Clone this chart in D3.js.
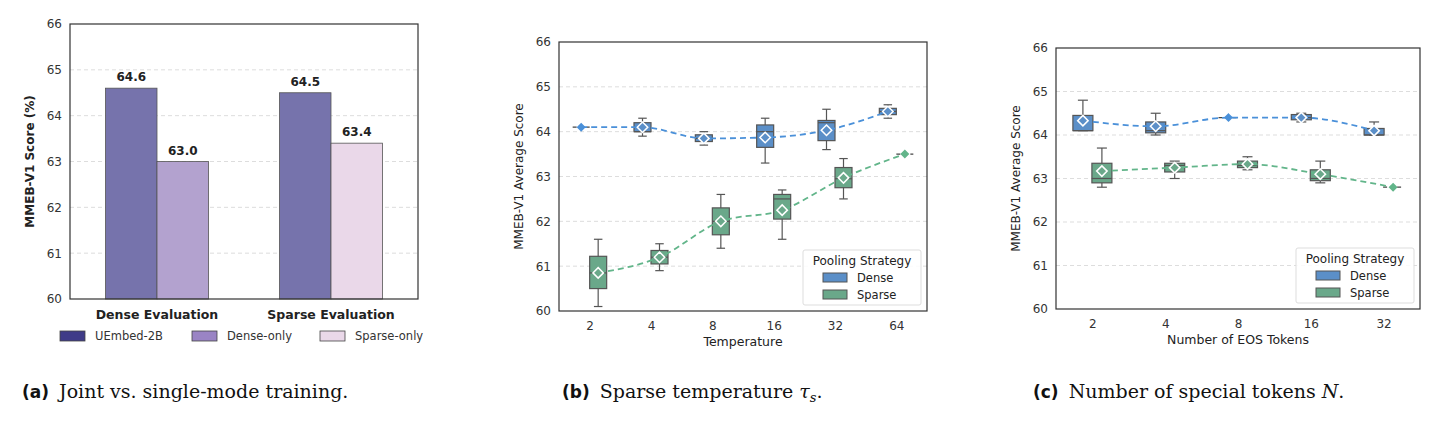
<!DOCTYPE html>
<html lang="en">
<head>
<meta charset="utf-8">
<script src="https://cdn.jsdelivr.net/npm/d3@7"></script>
<style>
body{margin:0;background:#fff;font-family:"DejaVu Sans",sans-serif;}
svg text{font-family:"DejaVu Sans",sans-serif;}
.grid line{stroke:#ddd;stroke-dasharray:4,3;}
.tick text{fill:#333;}
</style>
</head>
<body>
<svg id="fig" width="1446" height="423"></svg>
<script>
// panel (a) data
var evalGroups = ["Dense Evaluation", "Sparse Evaluation"];
var barModels = ["UEmbed-2B", "Dense-only", "Sparse-only"];
var barValues = [[64.6, 63.0], [64.5, 63.4]]; // per group: [joint, single]
var barColors = ["#7673ac", "#b3a2cf", "#ead8e9"];
var legendColors = ["#3f3b88", "#9a84c4", "#ead8e9"];
var yTicks = [60, 61, 62, 63, 64, 65, 66];

// panel (b) data: [whiskerLo, q1, median, q3, whiskerHi, mean]
var tempLabels = ["2", "4", "8", "16", "32", "64"];
var tempDense = [
  [64.1, 64.1, 64.1, 64.1, 64.1, 64.1],
  [63.9, 64.0, 64.0, 64.2, 64.3, 64.1],
  [63.7, 63.78, 63.85, 63.93, 64.0, 63.85],
  [63.3, 63.65, 64.0, 64.15, 64.3, 63.87],
  [63.6, 63.8, 64.2, 64.25, 64.5, 64.03],
  [64.3, 64.38, 64.45, 64.52, 64.6, 64.45]
];
var tempSparse = [
  [60.1, 60.5, 60.85, 61.22, 61.6, 60.85],
  [60.9, 61.05, 61.2, 61.35, 61.5, 61.2],
  [61.4, 61.7, 62.0, 62.3, 62.6, 62.0],
  [61.6, 62.05, 62.5, 62.6, 62.7, 62.25],
  [62.5, 62.75, 62.95, 63.2, 63.4, 62.97],
  [63.5, 63.5, 63.5, 63.5, 63.5, 63.5]
];

// panel (c) data
var eosLabels = ["2", "4", "8", "16", "32"];
var eosDense = [
  [64.1, 64.1, 64.1, 64.45, 64.8, 64.33],
  [64.0, 64.05, 64.1, 64.3, 64.5, 64.2],
  [64.4, 64.4, 64.4, 64.4, 64.4, 64.4],
  [64.3, 64.35, 64.4, 64.47, 64.5, 64.4],
  [64.0, 64.0, 64.0, 64.15, 64.3, 64.1]
];
var eosSparse = [
  [62.8, 62.9, 63.0, 63.35, 63.7, 63.17],
  [63.0, 63.15, 63.3, 63.35, 63.4, 63.25],
  [63.2, 63.25, 63.3, 63.4, 63.5, 63.33],
  [62.9, 62.95, 63.0, 63.2, 63.4, 63.1],
  [62.8, 62.8, 62.8, 62.8, 62.8, 62.8]
];

var denseBox = "#5b8fc8", denseLine = "#4a90d9";
var sparseBox = "#6aa88a", sparseLine = "#62b58a";

var svg = d3.select("#fig");

function frame(g, x0, x1, y0, y1, y, xl, yl, bold) {
  g.append("g").attr("class", "grid")
    .selectAll("line").data(yTicks.slice(1, -1)).enter().append("line")
    .attr("x1", x0).attr("x2", x1).attr("y1", y).attr("y2", y);
  g.append("g").attr("transform", "translate(" + x0 + ",0)")
    .call(d3.axisLeft(y).tickValues(yTicks).tickFormat(d3.format("d")).tickSize(0).tickPadding(8))
    .call(function(s){ s.select(".domain").remove(); s.selectAll("text").style("font-size", "12px").style("font-family", "DejaVu Sans"); });
  g.append("text").attr("transform", "translate(" + (x0 - 36) + "," + ((y0 + y1) / 2) + ") rotate(-90)")
    .attr("text-anchor", "middle").style("font-size", "12px").style("font-weight", bold ? "bold" : "normal")
    .attr("fill", "#222").text(yl);
}

function border(g, x0, x1, y0, y1) {
  g.append("rect").attr("x", x0).attr("y", y0).attr("width", x1 - x0).attr("height", y1 - y0)
    .attr("fill", "none").attr("stroke", "#333").attr("stroke-width", 1.2);
}

// ---- panel (a)
(function(){
  var x0 = 70, x1 = 418, y0 = 24, y1 = 299;
  var g = svg.append("g");
  var y = d3.scaleLinear().domain([60, 66]).range([y1, y0]);
  var x = d3.scalePoint().domain(evalGroups).range([x0, x1]).padding(0.5);
  frame(g, x0, x1, y0, y1, y, "", "MMEB-V1 Score (%)", true);
  var bw = 51.5;
  evalGroups.forEach(function(grp, gi){
    barValues[gi].forEach(function(v, k){
      var ci = k === 0 ? 0 : gi + 1;
      var bx = x(grp) - bw + k * bw;
      g.append("rect").attr("x", bx).attr("y", y(v)).attr("width", bw).attr("height", y(60) - y(v))
        .attr("fill", barColors[ci]).attr("stroke", "#555").attr("stroke-width", 0.8);
      g.append("text").attr("x", bx + bw / 2).attr("y", y(v) - 7).attr("text-anchor", "middle")
        .style("font-size", "12px").style("font-weight", "bold").attr("fill", "#222").text(v.toFixed(1));
    });
    g.append("text").attr("x", x(grp)).attr("y", y1 + 20).attr("text-anchor", "middle")
      .style("font-size", "12.5px").style("font-weight", "bold").attr("fill", "#222").text(grp);
  });
  border(g, x0, x1, y0, y1);
  var lx = [60, 192, 320];
  barModels.forEach(function(m, i){
    g.append("rect").attr("x", lx[i]).attr("y", 331).attr("width", 25).attr("height", 10)
      .attr("fill", legendColors[i]).attr("stroke", "#444").attr("stroke-width", 0.8);
    g.append("text").attr("x", lx[i] + 35).attr("y", 340).style("font-size", "11.5px").attr("fill", "#333").text(m);
  });
})();

// ---- box panels
function boxPanel(x0, x1, y0, y1, labels, dense, sparse, off, bw, xl) {
  var g = svg.append("g");
  var y = d3.scaleLinear().domain([60, 66]).range([y1, y0]);
  var x = d3.scalePoint().domain(labels).range([x0, x1]).padding(0.5);
  frame(g, x0, x1, y0, y1, y, xl, "MMEB-V1 Average Score", false);
  g.append("g").attr("transform", "translate(0," + y1 + ")")
    .call(d3.axisBottom(x).tickSize(0).tickPadding(10))
    .call(function(s){ s.select(".domain").remove(); s.selectAll("text").style("font-size", "12px").style("font-family", "DejaVu Sans"); });
  g.append("text").attr("x", (x0 + x1) / 2).attr("y", y1 + 35).attr("text-anchor", "middle")
    .style("font-size", "12.5px").attr("fill", "#222").text(xl);

  [[dense, -off, denseBox, denseLine], [sparse, off, sparseBox, sparseLine]].forEach(function(s){
    var data = s[0], dx = s[1];
    var cx = function(i){ return x(labels[i]) + dx; };
    data.forEach(function(d, i){
      var c = cx(i);
      if (d[0] === d[4]) {
        g.append("line").attr("x1", c - bw / 2).attr("x2", c + bw / 2).attr("y1", y(d[2])).attr("y2", y(d[2]))
          .attr("stroke", "#444").attr("stroke-width", 1.2).attr("stroke-dasharray", "4,3");
        return;
      }
      g.append("line").attr("x1", c).attr("x2", c).attr("y1", y(d[0])).attr("y2", y(d[4]))
        .attr("stroke", "#555").attr("stroke-width", 1.2);
      [d[0], d[4]].forEach(function(w){
        g.append("line").attr("x1", c - bw / 4).attr("x2", c + bw / 4).attr("y1", y(w)).attr("y2", y(w))
          .attr("stroke", "#555").attr("stroke-width", 1.2);
      });
      g.append("rect").attr("x", c - bw / 2).attr("y", y(d[3])).attr("width", bw).attr("height", y(d[1]) - y(d[3]))
        .attr("fill", s[2]).attr("stroke", "#555").attr("stroke-width", 1.2);
      g.append("line").attr("x1", c - bw / 2).attr("x2", c + bw / 2).attr("y1", y(d[2])).attr("y2", y(d[2]))
        .attr("stroke", "#555").attr("stroke-width", 1.2);
    });
    var line = d3.line().curve(d3.curveMonotoneX).x(function(d, i){ return cx(i); }).y(function(d){ return y(d[5]); });
    g.append("path").datum(data).attr("d", line).attr("fill", "none").attr("stroke", s[3])
      .attr("stroke-width", 1.8).attr("stroke-dasharray", "6,4");
    data.forEach(function(d, i){
      var single = d[0] === d[4];
      g.append("path").attr("d", d3.symbol(d3.symbolDiamond2, single ? 30 : 70)())
        .attr("transform", "translate(" + cx(i) + "," + y(d[5]) + ")")
        .attr("fill", single ? s[3] : s[2]).attr("stroke", single ? s[3] : "#fff").attr("stroke-width", 1.5);
    });
  });
  border(g, x0, x1, y0, y1);
  // legend
  var lw = 118, lh = 55, lx = x1 - lw - 6, ly = y1 - lh - 6;
  g.append("rect").attr("x", lx).attr("y", ly).attr("width", lw).attr("height", lh)
    .attr("fill", "#fff").attr("fill-opacity", 0.85).attr("stroke", "#ddd").attr("rx", 2);
  g.append("text").attr("x", lx + lw / 2).attr("y", ly + 15).attr("text-anchor", "middle")
    .style("font-size", "12px").attr("fill", "#222").text("Pooling Strategy");
  [["Dense", denseBox], ["Sparse", sparseBox]].forEach(function(e, i){
    g.append("rect").attr("x", lx + 20).attr("y", ly + 23 + i * 17).attr("width", 24).attr("height", 9)
      .attr("fill", e[1]).attr("stroke", "#555");
    g.append("text").attr("x", lx + 54).attr("y", ly + 32 + i * 17).style("font-size", "11.5px").attr("fill", "#222").text(e[0]);
  });
}

boxPanel(559, 927, 42, 311, tempLabels, tempDense, tempSparse, 8.5, 17, "Temperature");
boxPanel(1056, 1420, 48, 309, eosLabels, eosDense, eosSparse, 9.5, 20, "Number of EOS Tokens");

// captions
var serif = "'DejaVu Serif', serif";
var captions = [
  [22, "(a)", "Joint vs. single-mode training."],
  [562, "(b)", "Sparse temperature "],
  [1033, "(c)", "Number of special tokens "]
];
captions.forEach(function(c, i){
  var t = svg.append("text").attr("x", c[0]).attr("y", 398).style("font-size", "19px").attr("fill", "#111");
  t.append("tspan").style("font-family", "DejaVu Sans").style("font-weight", "bold").style("font-size", "17px").text(c[1]);
  t.append("tspan").attr("dx", 10).style("font-family", serif).text(c[2]);
  if (i === 1) {
    t.append("tspan").style("font-family", serif).style("font-style", "italic").text("τ");
    t.append("tspan").style("font-family", serif).style("font-style", "italic").style("font-size", "13px").attr("dy", 4).text("s");
    t.append("tspan").style("font-family", serif).attr("dy", -4).text(".");
  }
  if (i === 2) {
    t.append("tspan").style("font-family", serif).style("font-style", "italic").text("N");
    t.append("tspan").style("font-family", serif).text(".");
  }
});
</script>
</body>
</html>
